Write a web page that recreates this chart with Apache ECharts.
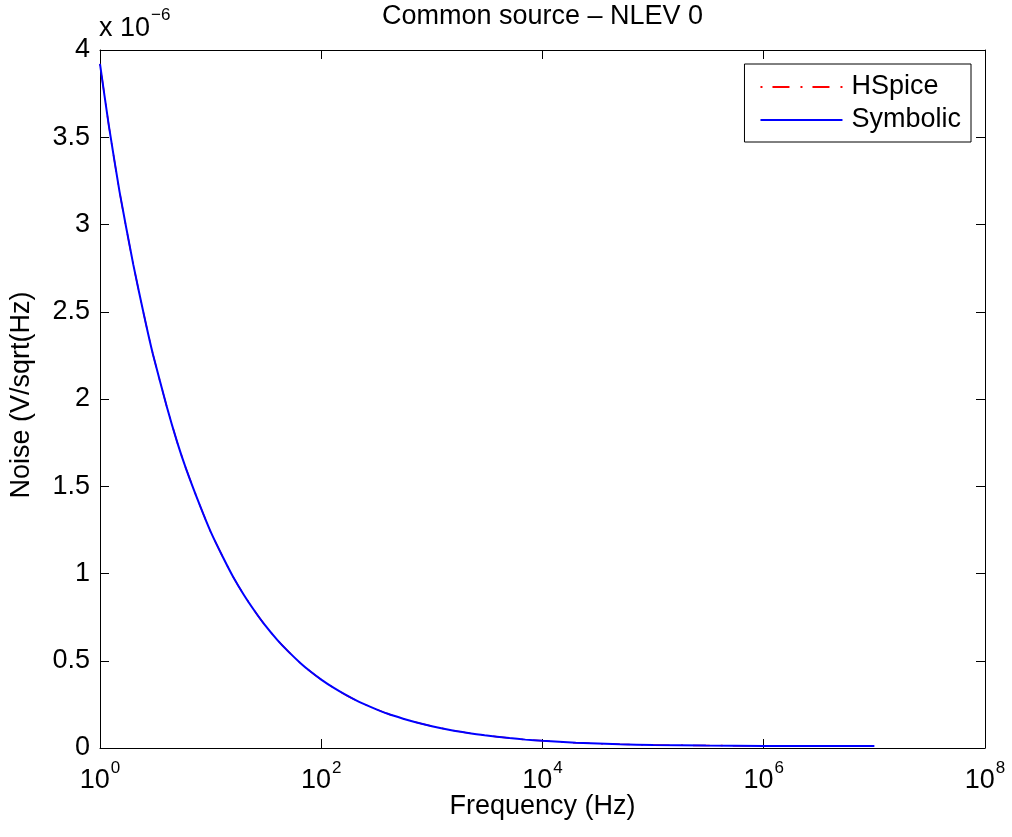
<!DOCTYPE html>
<html>
<head>
<meta charset="utf-8">
<title>Common source - NLEV 0</title>
<script src="https://cdn.jsdelivr.net/npm/echarts@6/dist/echarts.min.js"></script>
<style>
    html, body { margin: 0; padding: 0; background: #fff; }
    #chart { width: 1012px; height: 837px; }
</style>
</head>
<body>
<div id="chart"></div>
<script>
// frequency points (Hz)
var freq = [1, 1.2, 1.5, 2, 2.5, 3, 4, 5, 6, 8, 10, 13, 16, 20, 25, 30, 40, 50, 65, 80,
    100, 130, 170, 220, 300, 400, 550, 700, 1000, 1500, 2000, 3000, 5000, 7000,
    1e4, 2e4, 5e4, 1e5, 3e5, 1e6, 3e6, 1e7];
// noise, in units of 1e-6 V/sqrt(Hz)
var hspiceNoise = [3.92, 3.57, 3.19, 2.77, 2.48, 2.26, 1.96, 1.75, 1.60, 1.39, 1.24, 1.09, 0.98, 0.877, 0.785, 0.716, 0.620, 0.555, 0.486, 0.438,
    0.392, 0.344, 0.301, 0.264, 0.227, 0.196, 0.168, 0.149, 0.125, 0.102, 0.089, 0.073, 0.057, 0.048,
    0.041, 0.030, 0.021, 0.017, 0.014, 0.013, 0.012, 0.012];
var symbolicNoise = [3.92, 3.57, 3.19, 2.77, 2.48, 2.26, 1.96, 1.75, 1.60, 1.39, 1.24, 1.09, 0.98, 0.877, 0.785, 0.716, 0.620, 0.555, 0.486, 0.438,
    0.392, 0.344, 0.301, 0.264, 0.227, 0.196, 0.168, 0.149, 0.125, 0.102, 0.089, 0.073, 0.057, 0.048,
    0.041, 0.030, 0.021, 0.017, 0.014, 0.012, 0.011, 0.011];
var xTicks = [1, 1e2, 1e4, 1e6, 1e8];
var yTicks = [0, 0.5, 1, 1.5, 2, 2.5, 3, 3.5, 4];

var FONT = '"Liberation Sans", Arial, Helvetica, sans-serif';

function pairs(xs, ys){
    var res = [];
    for(var i=0; i<xs.length; i++){
        res.push([xs[i], ys[i]]);
    }
    return res;
}

// 10^n label with superscript
function powLabel(v){
    var e = Math.round(Math.log(v) / Math.LN10);
    return '{b|10}{s|' + e + '}';
}

var chart = echarts.init(document.getElementById('chart'), null, {renderer: 'canvas'});

var tickStyle = { show: true, inside: true, length: 9, lineStyle: { color: '#000', width: 1 } };
var lineStyle = { show: true, onZero: false, lineStyle: { color: '#000', width: 1 } };

// superscript: bottom padding lifts the exponent above the base text
var supRich = {
    b: { fontFamily: FONT, fontSize: 27, lineHeight: 50, color: '#000', verticalAlign: 'middle' },
    s: { fontFamily: FONT, fontSize: 17, lineHeight: 17, color: '#000', verticalAlign: 'middle', padding: [0, 0, 26, 1] }
};

var option = {
    backgroundColor: '#fff',
    animation: false,
    textStyle: { fontFamily: FONT },
    grid: {
        left: 100,
        right: 27,
        top: 50,
        bottom: 89,
        containLabel: false,
        outerBoundsMode: 'none'
    },
    legend: {
        orient: 'vertical',
        right: 41,
        top: 64,
        align: 'left',
        itemWidth: 82,
        itemHeight: 14,
        itemGap: 3,
        padding: [8, 10, 7, 15],
        borderColor: '#000',
        borderWidth: 1,
        borderRadius: 0,
        backgroundColor: '#fff',
        // hide the marker dot, keep the line sample
        itemStyle: { opacity: 0, color: 'rgba(0,0,0,0)', borderWidth: 0 },
        textStyle: { fontFamily: FONT, fontSize: 27, color: '#000', lineHeight: 30, padding: [0, 0, 0, 4] },
        data: ['HSpice', 'Symbolic']
    },
    xAxis: [{
        type: 'log',
        logBase: 10,
        min: xTicks[0],
        max: xTicks[xTicks.length - 1],
        interval: 2,
        splitNumber: 4,
        position: 'bottom',
        axisLine: lineStyle,
        axisTick: tickStyle,
        minorTick: { show: false },
        splitLine: { show: false },
        axisLabel: {
            margin: 8,
            color: '#000',
            formatter: powLabel,
            rich: supRich
        }
    }, {
        type: 'log',
        logBase: 10,
        min: xTicks[0],
        max: xTicks[xTicks.length - 1],
        interval: 2,
        splitNumber: 4,
        position: 'top',
        axisLine: lineStyle,
        axisTick: tickStyle,
        splitLine: { show: false },
        axisLabel: { show: false }
    }],
    yAxis: [{
        type: 'value',
        min: yTicks[0],
        max: yTicks[yTicks.length - 1],
        interval: 0.5,
        position: 'left',
        axisLine: lineStyle,
        axisTick: tickStyle,
        splitLine: { show: false },
        axisLabel: { margin: 10, color: '#000', fontFamily: FONT, fontSize: 27 }
    }, {
        type: 'value',
        min: yTicks[0],
        max: yTicks[yTicks.length - 1],
        interval: 0.5,
        position: 'right',
        axisLine: lineStyle,
        axisTick: tickStyle,
        splitLine: { show: false },
        axisLabel: { show: false }
    }],
    graphic: [
        {
            type: 'text', x: 542.5, y: 17,
            style: { text: 'Common source \u2013 NLEV 0', font: '27px ' + FONT, fill: '#000', align: 'center', verticalAlign: 'middle' }
        },
        {
            type: 'text', x: 542.5, y: 807,
            style: { text: 'Frequency (Hz)', font: '27px ' + FONT, fill: '#000', align: 'center', verticalAlign: 'middle' }
        },
        {
            type: 'text', x: 22, y: 395, rotation: Math.PI / 2,
            style: { text: 'Noise (V/sqrt(Hz)', font: '27px ' + FONT, fill: '#000', align: 'center', verticalAlign: 'middle' }
        },
        {
            // scale factor above y axis
            type: 'text', x: 99, y: 28.5,
            style: {
                text: '{b|x 10}{s|\u22126}',
                align: 'left',
                verticalAlign: 'middle',
                rich: supRich
            }
        }
    ],
    series: [
        {
            name: 'HSpice',
            type: 'line',
            xAxisIndex: 0,
            yAxisIndex: 0,
            symbol: 'none',
            smooth: 0.2,
            color: '#ff0000',
            lineStyle: { color: '#ff0000', width: 1.5, type: [2, 10, 17, 11] },
            data: pairs(freq, hspiceNoise)
        },
        {
            name: 'Symbolic',
            type: 'line',
            xAxisIndex: 0,
            yAxisIndex: 0,
            symbol: 'none',
            smooth: 0.2,
            color: '#0000ff',
            lineStyle: { color: '#0000ff', width: 2, type: 'solid' },
            data: pairs(freq, symbolicNoise)
        }
    ]
};

chart.setOption(option);
</script>
</body>
</html>
